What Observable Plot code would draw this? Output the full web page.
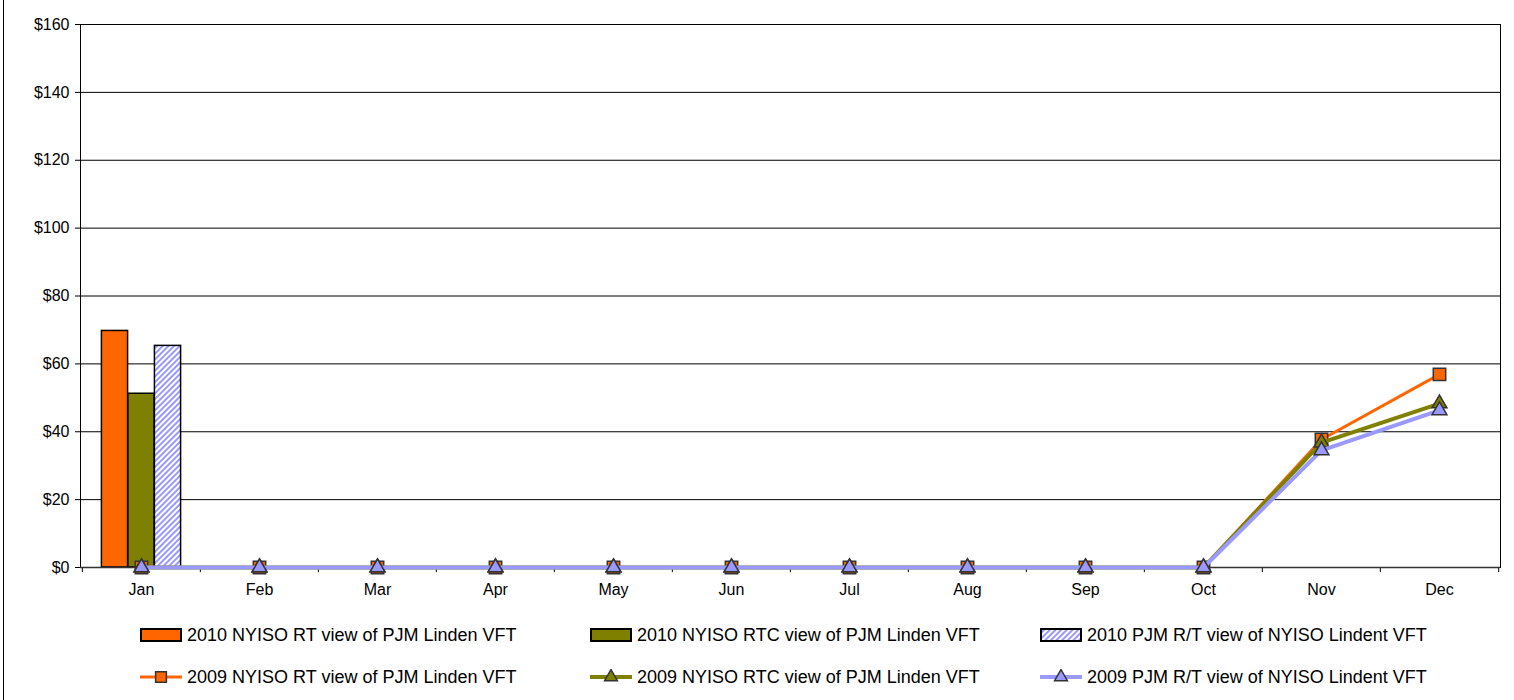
<!DOCTYPE html>
<html><head><meta charset="utf-8">
<script src="https://cdn.jsdelivr.net/npm/d3@7"></script>
<script src="https://cdn.jsdelivr.net/npm/@observablehq/plot@0.6"></script>
<style>
body{margin:0;background:#fff;font-family:"Liberation Sans",Arial,sans-serif;}
#wrap{position:relative;width:1514px;height:700px;overflow:hidden;background:#fff;}
#border{position:absolute;left:3px;top:-5px;width:1600px;height:800px;border:1.5px solid #000;box-sizing:border-box;}
#chart{position:absolute;left:0;top:0;}
.leg{position:absolute;display:flex;align-items:center;font-size:18px;white-space:nowrap;color:#000;height:24px;}
.leg svg{margin-right:5px;}
</style></head><body>
<div id="wrap"><div id="border"></div><div id="chart"></div><div id="legend"></div></div>
<script>
// ---- data ----
const months = ["Jan","Feb","Mar","Apr","May","Jun","Jul","Aug","Sep","Oct","Nov","Dec"];
const yTicks = [0,20,40,60,80,100,120,140,160];
const barSeries = ["2010 NYISO RT view of PJM Linden VFT","2010 NYISO RTC view of PJM Linden VFT","2010 PJM R/T view of NYISO Lindent VFT"];
const lineSeries = ["2009 NYISO RT view of PJM Linden VFT","2009 NYISO RTC view of PJM Linden VFT","2009 PJM R/T view of NYISO Lindent VFT"];
const rt2010  = [69.7, null,null,null,null,null,null,null,null,null,null,null];
const rtc2010 = [51.2, null,null,null,null,null,null,null,null,null,null,null];
const pjm2010 = [65.3, null,null,null,null,null,null,null,null,null,null,null];
const rt2009  = [0,0,0,0,0,0,0,0,0,0,37.7,56.9];
const rtc2009 = [0,0,0,0,0,0,0,0,0,0,36.8,48.3];
const pjm2009 = [0,0,0,0,0,0,0,0,0,0,34.5,46.3];

const colors = ["#FF6600","#808000","#9999FF"];

// ---- build tables ----
const toRows = arr => months.map((m,i)=>({month:m, value:arr[i]})).filter(d=>d.value!=null);
const barData = [rt2010, rtc2010, pjm2010].map(toRows);
const lineData = [rt2009, rtc2009, pjm2009].map(toRows);

const W = 1514, H = 610, ML = 80, MR = 14, MT = 24, MB = 43;
const bw = (W - ML - MR) / months.length;
const barW = 26.5;
const inset = (bw - barW) / 2;
const barOffsets = [-barW, 0, barW];

const defs = () => {
  const d = d3.create("svg:defs");
  const p = d.append("pattern").attr("id","hatch").attr("patternUnits","userSpaceOnUse")
    .attr("width",4).attr("height",4).attr("patternTransform","rotate(45)");
  p.append("rect").attr("width",4).attr("height",4).attr("fill","#fff");
  p.append("rect").attr("width",2).attr("height",4).attr("fill","#9999FF");
  return d.node();
};

const barFills = ["#FF6600","#808000","url(#hatch)"];
const symbols = ["square","triangle","triangle"];
const symR = [7, 5.5, 5.5];
const lineW = [3, 4, 4];

const marks = [defs,
  Plot.ruleY(yTicks.filter(d=>d>0), {y:d=>d, stroke:"#000", strokeWidth:1}),
  Plot.frame({stroke:"#000", strokeWidth:1}),
  Plot.axisY({ticks:yTicks, tickFormat:d=>"$"+d, tickSize:5, tickPadding:6, fontSize:16, stroke:"#000"}),
  Plot.axisX({tickSize:0, tickPadding:16, fontSize:16}),
  Plot.ruleX(months, {x:d=>d, dx:-bw/2, y1:0, y2:-1.5, stroke:"#000"}),
  Plot.ruleX([months[months.length-1]], {x:d=>d, dx:bw/2, y1:0, y2:-1.5, stroke:"#000"}),
];
barData.forEach((data,k)=>{
  marks.push(Plot.barY(data, {x:"month", y:"value", fill:barFills[k], stroke:"#000", strokeWidth:1.5,
    insetLeft:inset, insetRight:inset, dx:barOffsets[k]}));
});
marks.push(Plot.ruleY([0], {stroke:"#333", strokeWidth:1.5}));
lineData.forEach((data,k)=>{
  marks.push(Plot.line(data, {x:"month", y:"value", stroke:colors[k], strokeWidth:lineW[k]}));
  marks.push(Plot.dot(data, {x:"month", y:"value", symbol:symbols[k], r:symR[k], fill:colors[k], stroke:"#333", strokeWidth:1.5}));
});

const chart = Plot.plot({
  width:W, height:H, marginLeft:ML, marginRight:MR, marginTop:MT, marginBottom:MB,
  style:{fontFamily:"'Liberation Sans', Arial, sans-serif", fontSize:"16px", color:"#000", background:"transparent", overflow:"visible"},
  x:{type:"band", domain:months, padding:0, label:null, axis:null},
  y:{domain:[0,160], label:null, axis:null},
  marks
});
document.getElementById("chart").appendChild(chart);

// ---- legend ----
const leg = document.getElementById("legend");
const colX = [140, 590, 1040];
const rowY = [635, 677];
function swatch(kind, k){
  const s = d3.create("svg").attr("width",42).attr("height",16);
  if(kind==="bar"){
    s.append("defs").html('<pattern id="hatchL" patternUnits="userSpaceOnUse" width="4" height="4" patternTransform="rotate(45)"><rect width="4" height="4" fill="#fff"/><rect width="2" height="4" fill="#9999FF"/></pattern>');
    s.append("rect").attr("x",1).attr("y",2).attr("width",40).attr("height",12)
      .attr("fill", k===2 ? "url(#hatchL)" : colors[k]).attr("stroke","#000").attr("stroke-width",2);
  } else {
    s.append("line").attr("x1",0).attr("x2",42).attr("y1",8).attr("y2",8).attr("stroke",colors[k]).attr("stroke-width",lineW[k]);
    const type = symbols[k]==="square" ? d3.symbolSquare : d3.symbolTriangle;
    s.append("path").attr("transform","translate(21,8)")
      .attr("d", d3.symbol(type, Math.PI*symR[k]*symR[k]*0.75)())
      .attr("fill",colors[k]).attr("stroke","#333").attr("stroke-width",1.5);
  }
  return s.node();
}
[barSeries, lineSeries].forEach((names,r)=>{
  names.forEach((name,k)=>{
    const div = document.createElement("div");
    div.className = "leg";
    div.style.left = colX[k]+"px";
    div.style.top = (rowY[r]-12)+"px";
    div.appendChild(swatch(r===0?"bar":"line", k));
    const t = document.createElement("span"); t.textContent = name;
    div.appendChild(t);
    leg.appendChild(div);
  });
});
</script>
</body></html>
